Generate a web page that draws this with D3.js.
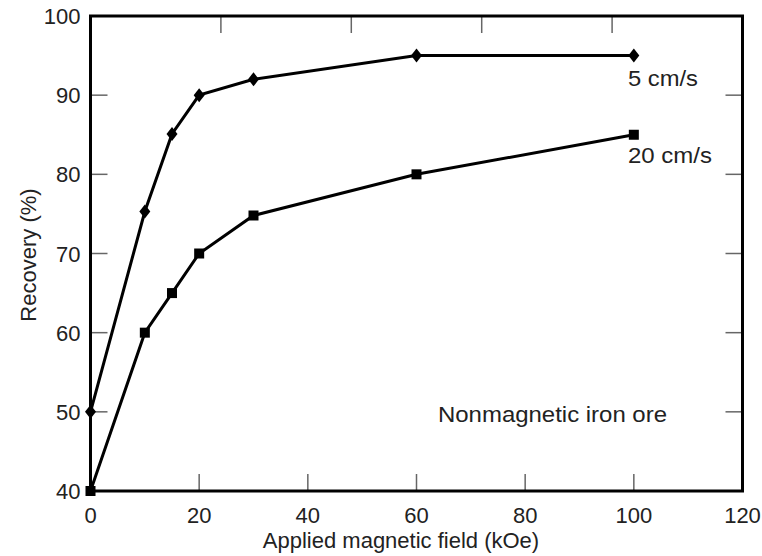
<!DOCTYPE html>
<html>
<head>
<meta charset="utf-8">
<script src="https://cdn.jsdelivr.net/npm/d3@7"></script>
<style>
  body { margin: 0; background: #fff; }
  text { font-family: "Liberation Sans", Arial, Helvetica, sans-serif; fill: #222; }
</style>
</head>
<body>
<div id="chart"></div>
<script>
const fieldKOe = [0, 10, 15, 20, 30, 60, 100];
const recovery5 = [50, 75.3, 85.1, 90, 92, 95, 95];
const recovery20 = [40, 60, 65, 70, 74.8, 80, 85];
const xTicks = [0, 20, 40, 60, 80, 100, 120];
const yTicks = [40, 50, 60, 70, 80, 90, 100];
const topTicks = [24, 48, 72, 96];

const width = 762, height = 556;
const m = { left: 90.5, right: 19.5, top: 16, bottom: 65 };

const svg = d3.select('#chart').append('svg')
  .attr('width', width)
  .attr('height', height);

const x = d3.scaleLinear().domain([0, 120]).range([m.left, width - m.right]);
const y = d3.scaleLinear().domain([40, 100]).range([height - m.bottom, m.top]);

// inward ticks
const tickLen = 17;
const ticks = svg.append('g').attr('stroke', '#666').attr('stroke-width', 1.5);
ticks.selectAll('.bt').data(xTicks.slice(1, -1)).join('line')
  .attr('x1', d => x(d)).attr('x2', d => x(d))
  .attr('y1', y(40)).attr('y2', y(40) - tickLen);
ticks.selectAll('.tt').data(topTicks).join('line')
  .attr('x1', d => x(d)).attr('x2', d => x(d))
  .attr('y1', y(100)).attr('y2', y(100) + tickLen);
ticks.selectAll('.lt').data(yTicks.slice(1, -1)).join('line')
  .attr('x1', x(0)).attr('x2', x(0) + tickLen)
  .attr('y1', d => y(d)).attr('y2', d => y(d));
ticks.selectAll('.rt').data(yTicks.slice(1, -1)).join('line')
  .attr('x1', x(120)).attr('x2', x(120) - tickLen)
  .attr('y1', d => y(d)).attr('y2', d => y(d));

// frame
svg.append('rect')
  .attr('x', x(0)).attr('y', y(100))
  .attr('width', x(120) - x(0)).attr('height', y(40) - y(100))
  .attr('fill', 'none').attr('stroke', '#000').attr('stroke-width', 3);

// tick labels
svg.selectAll('.xl').data(xTicks).join('text')
  .attr('x', d => x(d)).attr('y', y(40) + 32)
  .attr('text-anchor', 'middle').attr('font-size', 22)
  .text(d => d);
svg.selectAll('.yl').data(yTicks).join('text')
  .attr('x', x(0) - 10).attr('y', d => y(d) + 8)
  .attr('text-anchor', 'end').attr('font-size', 22)
  .text(d => d);

svg.append('text')
  .attr('x', 401).attr('y', 548)
  .attr('text-anchor', 'middle').attr('font-size', 22)
  .text('Applied magnetic field (kOe)');
svg.append('text')
  .attr('transform', `translate(36,255) rotate(-90)`)
  .attr('text-anchor', 'middle').attr('font-size', 22)
  .text('Recovery (%)');

// series
const line = d3.line().x(d => x(d[0])).y(d => y(d[1]));
const s5 = fieldKOe.map((f, i) => [f, recovery5[i]]);
const s20 = fieldKOe.map((f, i) => [f, recovery20[i]]);

svg.append('path').datum(s5).attr('d', line)
  .attr('fill', 'none').attr('stroke', '#000').attr('stroke-width', 3);
svg.append('path').datum(s20).attr('d', line)
  .attr('fill', 'none').attr('stroke', '#000').attr('stroke-width', 3);

svg.selectAll('.dm').data(s5).join('path')
  .attr('d', 'M0,-7L5.5,0L0,7L-5.5,0Z')
  .attr('transform', d => `translate(${x(d[0])},${y(d[1])})`)
  .attr('fill', '#000');
svg.selectAll('.sq').data(s20).join('rect')
  .attr('x', d => x(d[0]) - 5).attr('y', d => y(d[1]) - 5)
  .attr('width', 10).attr('height', 10)
  .attr('fill', '#000');

// annotations
const note = (tx, ty, len, s) => svg.append('text')
  .attr('x', tx).attr('y', ty).attr('font-size', 22)
  .attr('textLength', len).attr('lengthAdjust', 'spacingAndGlyphs')
  .text(s);
note(628, 86, 70, '5 cm/s');
note(628, 163, 84, '20 cm/s');
note(438, 422, 229, 'Nonmagnetic iron ore');
</script>
</body>
</html>
